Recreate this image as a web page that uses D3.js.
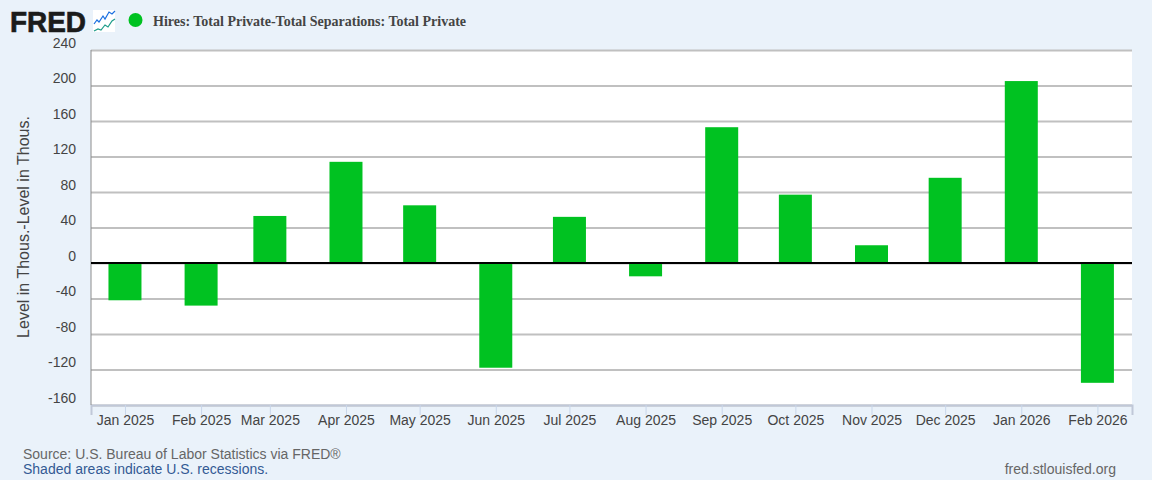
<!DOCTYPE html>
<html>
<head>
<meta charset="utf-8">
<script src="https://cdn.jsdelivr.net/npm/d3@7"></script>
<style>
html, body { margin: 0; padding: 0; background: #eaf2fa; }
svg { display: block; }
text { font-family: "Liberation Sans", Arial, sans-serif; }
</style>
</head>
<body>
<svg></svg>
<script>
const months = ['2025-01-01','2025-02-01','2025-03-01','2025-04-01','2025-05-01','2025-06-01','2025-07-01',
                '2025-08-01','2025-09-01','2025-10-01','2025-11-01','2025-12-01','2026-01-01','2026-02-01'];
const values = [-42, -48, 53, 114, 65, -118, 52, -15, 153, 77, 20, 96, 205, -135];
const yTicks = [240, 200, 160, 120, 80, 40, 0, -40, -80, -120, -160];
const logoLineA = [[0,13],[3,9],[5,11],[9,5],[11,8],[15,1],[18,3],[21,0]];
const logoLineB = [[0,20],[4,18],[7,19],[11,14],[14,16],[18,10],[21,8]];

const width = 1152;
const height = 480;
const plotLeft = 91, plotRight = 1132, plotTop = 50, plotBottom = 405;
const barWidth = 33;
const green = '#00c221';

let svg = d3.select('svg').attr('width', width).attr('height', height);

svg.append('rect').attr('width', width).attr('height', height).attr('fill', '#eaf2fa');
svg.append('rect').attr('x', plotLeft).attr('y', plotTop)
    .attr('width', plotRight - plotLeft).attr('height', plotBottom - plotTop).attr('fill', '#fff');

let dates = months.map((m) => new Date(m + 'T00:00:00Z'));

// axis runs a bit past the first and last month so the bars have room
let xScale = d3.scaleUtc()
    .domain([d3.utcHour.offset(dates[0], -13.8 * 24), d3.utcHour.offset(dates[dates.length - 1], 14.1 * 24)])
    .range([plotLeft, plotRight]);

let yScale = d3.scaleLinear().domain([-160, 240]).range([plotBottom, plotTop]);

// gridlines + y labels
let yAxis = d3.axisLeft(yScale).tickValues(yTicks).tickSize(-(plotRight - plotLeft)).tickPadding(15)
    .tickFormat((d) => String(d));
let yG = svg.append('g').attr('transform', 'translate(' + plotLeft + ',0)').call(yAxis);
yG.select('.domain').remove();
yG.selectAll('line').attr('stroke', '#c0c0c0').attr('stroke-width', 2);
yG.selectAll('text')
    .attr('font-size', 14).attr('fill', '#444')
    .attr('dy', '-0.2em')
    .style('font-family', '"Liberation Sans", Arial, sans-serif');

// x axis
let xAxis = d3.axisBottom(xScale).tickValues(dates).tickSize(10).tickPadding(0)
    .tickFormat(d3.utcFormat('%b %Y'));
let xG = svg.append('g').attr('transform', 'translate(0,' + plotBottom + ')').call(xAxis);
xG.select('.domain').attr('stroke', '#c0c8d8').attr('stroke-width', 2);
xG.selectAll('line').attr('stroke', '#c8d6ea');
xG.selectAll('text')
    .attr('font-size', 14).attr('fill', '#444').attr('y', 10).attr('dy', '0.71em')
    .style('font-family', '"Liberation Sans", Arial, sans-serif');

// left edge of plot
svg.append('line').attr('x1', plotLeft).attr('x2', plotLeft).attr('y1', plotTop).attr('y2', plotBottom)
    .attr('stroke', '#8c8c8c').attr('stroke-width', 1);

// bars
svg.selectAll('rect.bar')
    .data(values)
    .enter()
    .append('rect')
    .attr('class', 'bar')
    .attr('x', (d, i) => xScale(dates[i]) - barWidth / 2)
    .attr('y', (d) => yScale(Math.max(d, 0)))
    .attr('width', barWidth)
    .attr('height', (d) => Math.abs(yScale(d) - yScale(0)))
    .attr('fill', green);

// zero line
svg.append('line').attr('x1', plotLeft).attr('x2', plotRight)
    .attr('y1', yScale(0)).attr('y2', yScale(0))
    .attr('stroke', '#000').attr('stroke-width', 2);

// y title
svg.append('text')
    .attr('transform', 'translate(29,227) rotate(-90)')
    .attr('text-anchor', 'middle')
    .attr('font-size', 16)
    .attr('fill', '#444')
    .text('Level in Thous.-Level in Thous.');

// logo
svg.append('text')
    .attr('x', 10).attr('y', 32)
    .attr('font-size', 30).attr('font-weight', 'bold')
    .attr('fill', '#1b1b1b')
    .attr('stroke', '#1b1b1b').attr('stroke-width', 0.7)
    .attr('textLength', 76).attr('lengthAdjust', 'spacingAndGlyphs')
    .text('FRED');

let icon = svg.append('g').attr('transform', 'translate(94,11)');
icon.append('rect').attr('x', -1).attr('y', -1).attr('width', 22).attr('height', 22).attr('fill', '#fff');
let logoLine = d3.line();
icon.append('path').attr('d', logoLine(logoLineA)).attr('fill', 'none').attr('stroke', '#1a6fe0').attr('stroke-width', 1.2);
icon.append('path').attr('d', logoLine(logoLineB)).attr('fill', 'none').attr('stroke', '#1f9d8a').attr('stroke-width', 1.2);

// legend
svg.append('circle').attr('cx', 135.5).attr('cy', 20).attr('r', 7).attr('fill', green);
svg.append('text')
    .attr('x', 153).attr('y', 26)
    .attr('font-size', 14).attr('font-weight', 'bold')
    .attr('fill', '#444')
    .style('font-family', '"Liberation Serif", "Times New Roman", serif')
    .text('Hires: Total Private-Total Separations: Total Private');

// footer
svg.append('text').attr('x', 23).attr('y', 459).attr('font-size', 14).attr('fill', '#666')
    .text('Source: U.S. Bureau of Labor Statistics via FRED®');
svg.append('text').attr('x', 23).attr('y', 474).attr('font-size', 14).attr('fill', '#335a94')
    .text('Shaded areas indicate U.S. recessions.');
svg.append('text').attr('x', 1116).attr('y', 474).attr('font-size', 14).attr('fill', '#666')
    .attr('text-anchor', 'end')
    .text('fred.stlouisfed.org');
</script>
</body>
</html>
